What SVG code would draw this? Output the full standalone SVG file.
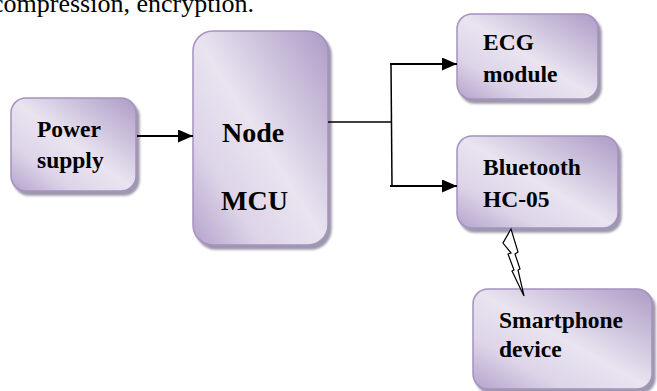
<svg xmlns="http://www.w3.org/2000/svg" width="657" height="391" viewBox="0 0 657 391">
<defs>
<linearGradient id="g" x1="1" y1="0" x2="0" y2="1">
<stop offset="0" stop-color="#ad9bc6"/>
<stop offset="0.5" stop-color="#e9e4f0"/>
<stop offset="0.75" stop-color="#ddd4e8"/>
<stop offset="1" stop-color="#b3a3cb"/>
</linearGradient>
<filter id="sh" x="-10%" y="-10%" width="130%" height="130%">
<feGaussianBlur in="SourceAlpha" stdDeviation="1.2"/>
<feOffset dx="3" dy="4" result="b"/>
<feFlood flood-color="#7d7590" flood-opacity="0.75"/>
<feComposite in2="b" operator="in"/>
<feMerge><feMergeNode/><feMergeNode in="SourceGraphic"/></feMerge>
</filter>
<marker id="ah" markerWidth="15" markerHeight="13" refX="15" refY="6.5" orient="auto" markerUnits="userSpaceOnUse">
<path d="M0,0 L15,6.5 L0,13 Z" fill="#000"/>
</marker>
</defs>
<style>
.box{fill:url(#g);stroke:#a591c0;stroke-width:1.5;filter:url(#sh)}
.t{font-family:"Liberation Serif","Times New Roman",serif;font-weight:bold;font-size:23.5px;fill:#000}
.tb{font-family:"Liberation Serif","Times New Roman",serif;font-weight:bold;font-size:28px;fill:#000}
.c{stroke:#000;fill:none}
</style>
<text x="-8" y="12" font-family="Liberation Serif, Times New Roman, serif" font-size="26" fill="#000">compression, encryption.</text>
<g id="power">
<rect class="box" x="11" y="98" width="125" height="93" rx="15"/>
<text class="t" x="37" y="137">Power</text>
<text class="t" x="37" y="168">supply</text>
</g>
<g id="nodemcu">
<rect class="box" x="193" y="31" width="135" height="214" rx="20"/>
<text class="tb" x="222" y="142">Node</text>
<text class="tb" x="221" y="210">MCU</text>
</g>
<g id="ecg">
<rect class="box" x="457" y="14" width="141" height="85" rx="15"/>
<text class="t" x="483" y="50">ECG</text>
<text class="t" x="483" y="82">module</text>
</g>
<g id="bluetooth">
<rect class="box" x="457" y="136" width="161" height="92" rx="15"/>
<text class="t" x="483" y="175">Bluetooth</text>
<text class="t" x="483" y="207">HC-05</text>
</g>
<g id="smartphone">
<rect class="box" x="473" y="289" width="179" height="100" rx="15"/>
<text class="t" x="499" y="328">Smartphone</text>
<text class="t" x="499" y="357">device</text>
</g>
<g id="connectors">
<line class="c" x1="137" y1="136" x2="193" y2="136" stroke-width="2" marker-end="url(#ah)"/>
<line class="c" x1="328" y1="122" x2="392" y2="122" stroke-width="1.3"/>
<line class="c" x1="391" y1="63" x2="392" y2="187" stroke-width="1.5"/>
<line class="c" x1="390" y1="64" x2="457" y2="64" stroke-width="2" marker-end="url(#ah)"/>
<line class="c" x1="390" y1="186" x2="457" y2="186" stroke-width="2" marker-end="url(#ah)"/>
<path d="M511,229 L503,243 L511,253 L508,254 L514,270 L512,271 L524,296 L518,270 L520,269 L515,254 L518,252 Z" fill="#fff" stroke="#000" stroke-width="1.2" stroke-linejoin="miter"/>
</g>
</svg>
